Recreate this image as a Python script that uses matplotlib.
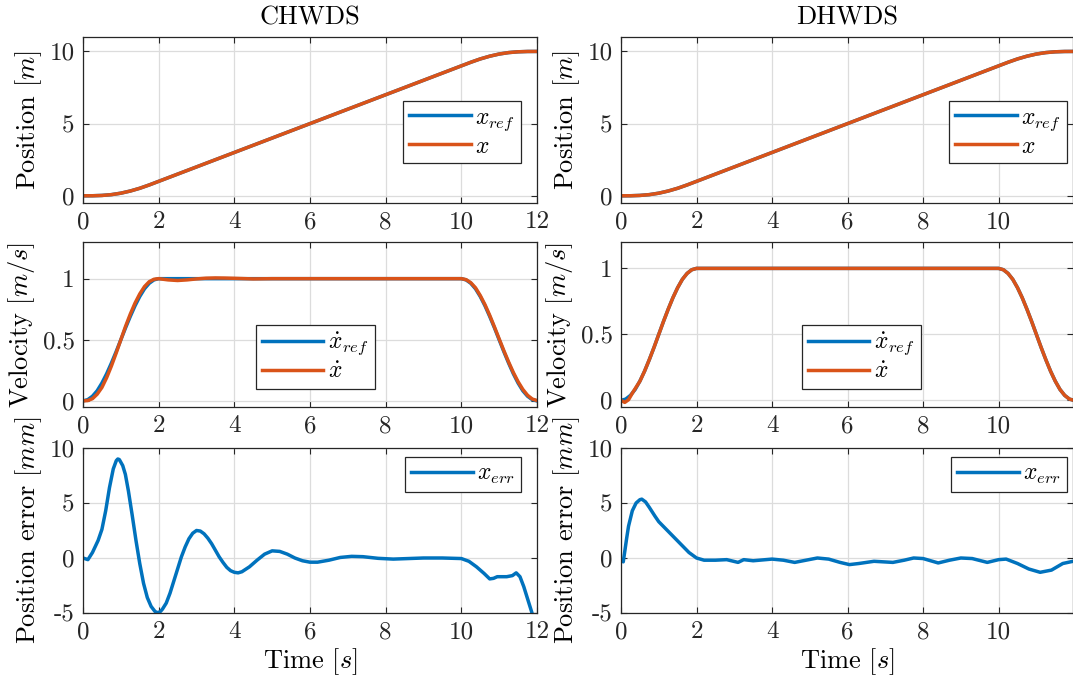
import matplotlib
matplotlib.use("Agg")
import matplotlib.pyplot as plt

plt.rcParams['font.family'] = 'serif'
plt.rcParams['font.serif'] = ['cmr10']
plt.rcParams['mathtext.fontset'] = 'cm'
plt.rcParams['axes.unicode_minus'] = False
plt.rcParams['axes.formatter.use_mathtext'] = True

BLUE = '#0072BD'
ORANGE = '#D95319'

# --- data ---
# reference trajectory (same for both controllers)
t_pos = [0, 0.25, 0.5, 0.75, 1.0, 1.25, 1.5, 1.75, 2.0, 10.0, 10.25, 10.5, 10.75, 11.0, 11.25, 11.5, 11.75, 12.0]
pos_ref = [0, 0.003, 0.025, 0.08, 0.18, 0.33, 0.52, 0.75, 1.0, 9.0, 9.25, 9.48, 9.67, 9.82, 9.92, 9.975, 9.997, 10.0]
pos_chwds = [0, 0.002, 0.022, 0.078, 0.18, 0.33, 0.52, 0.75, 1.0, 9.0, 9.25, 9.48, 9.67, 9.82, 9.92, 9.975, 9.997, 10.0]
pos_dhwds = [0, 0.002, 0.024, 0.079, 0.18, 0.33, 0.52, 0.75, 1.0, 9.0, 9.25, 9.48, 9.67, 9.82, 9.92, 9.975, 9.997, 10.0]

t_vel = [0, 0.125, 0.25, 0.375, 0.5, 0.625, 0.75, 0.875, 1.0, 1.125, 1.25, 1.375, 1.5, 1.625, 1.75, 1.875, 2.0,
         10.0, 10.125, 10.25, 10.375, 10.5, 10.625, 10.75, 10.875, 11.0, 11.125, 11.25, 11.375, 11.5, 11.625,
         11.75, 11.875, 12.0]
vel_ref = [0, 0.01, 0.038, 0.083, 0.146, 0.222, 0.309, 0.402, 0.5, 0.598, 0.691, 0.778, 0.854, 0.917, 0.962, 0.99, 1.0,
           1.0, 0.99, 0.962, 0.917, 0.854, 0.778, 0.691, 0.598, 0.5, 0.402, 0.309, 0.222, 0.146, 0.083,
           0.038, 0.01, 0]

t_vel_c = [0, 0.125, 0.25, 0.375, 0.5, 0.625, 0.75, 0.875, 1.0, 1.125, 1.25, 1.375, 1.5, 1.625, 1.75, 1.875, 2.0,
           2.25, 2.5, 2.75, 3.0, 3.25, 3.5, 3.75, 4.0, 4.5, 5.0,
           10.0, 10.125, 10.25, 10.375, 10.5, 10.625, 10.75, 10.875, 11.0, 11.125, 11.25, 11.375, 11.5, 11.625,
           11.75, 11.875, 12.0]
vel_chwds = [0, 0.003, 0.018, 0.055, 0.11, 0.19, 0.285, 0.39, 0.5, 0.61, 0.71, 0.8, 0.875, 0.935, 0.975, 0.995, 1.0,
             0.99, 0.985, 0.99, 0.998, 1.004, 1.006, 1.005, 1.003, 0.998, 1.0,
             1.0, 0.992, 0.967, 0.925, 0.862, 0.787, 0.7, 0.605, 0.507, 0.41, 0.318, 0.232, 0.157, 0.094,
             0.046, 0.015, 0.003]

t_vel_d = [0, 0.1, 0.2, 0.3, 0.4, 0.5, 0.625, 0.75, 0.875, 1.0, 1.125, 1.25, 1.375, 1.5, 1.625, 1.75, 1.875, 2.0,
           10.0, 10.125, 10.25, 10.375, 10.5, 10.625, 10.75, 10.875, 11.0, 11.125, 11.25, 11.375, 11.5, 11.625,
           11.75, 11.875, 12.0]
vel_dhwds = [0, -0.015, 0.005, 0.055, 0.1, 0.145, 0.222, 0.309, 0.402, 0.5, 0.598, 0.691, 0.778, 0.854, 0.917,
             0.962, 0.99, 1.0,
             1.0, 0.99, 0.962, 0.917, 0.854, 0.778, 0.691, 0.598, 0.5, 0.402, 0.309, 0.222, 0.146, 0.083,
             0.038, 0.01, 0]

t_err_c = [0, 0.13, 0.25, 0.4, 0.5, 0.6, 0.7, 0.8, 0.88, 0.92, 0.96, 1.05, 1.12, 1.2, 1.3, 1.4, 1.5, 1.6, 1.7,
           1.8, 1.9, 1.95, 2.0, 2.05, 2.1, 2.2, 2.3, 2.4, 2.5, 2.6, 2.7, 2.8, 2.9, 3.0, 3.1, 3.2, 3.3, 3.4,
           3.5, 3.6, 3.7, 3.8, 3.9, 4.0, 4.1, 4.2, 4.4, 4.6, 4.8, 5.0, 5.2, 5.4, 5.6, 5.8, 6.0, 6.2, 6.5, 6.8,
           7.1, 7.4, 7.8, 8.2, 8.6, 9.0, 9.5, 10.0, 10.2, 10.4, 10.6, 10.75, 10.85, 10.95, 11.2, 11.35, 11.45,
           11.55, 11.65, 11.75, 11.85, 11.92]
err_chwds = [0, -0.15, 0.5, 1.6, 2.6, 4.3, 6.4, 8.1, 8.85, 9.0, 8.95, 8.4, 7.6, 6.1, 3.9, 1.6, -0.5, -2.3, -3.6,
             -4.4, -4.85, -4.95, -4.95, -4.85, -4.65, -4.1, -3.2, -2.1, -1.0, 0.1, 1.0, 1.75, 2.25, 2.5, 2.45,
             2.2, 1.8, 1.3, 0.7, 0.1, -0.4, -0.85, -1.15, -1.3, -1.35, -1.25, -0.8, -0.2, 0.35, 0.65, 0.6, 0.35,
             0.0, -0.25, -0.38, -0.38, -0.2, 0.05, 0.15, 0.12, -0.03, -0.1, -0.05, 0.0, 0.0, -0.05, -0.3, -0.8,
             -1.4, -1.9, -1.85, -1.7, -1.7, -1.6, -1.35, -1.7, -2.6, -3.7, -4.8, -5.6]

t_err_d = [0, 0.06, 0.1, 0.15, 0.2, 0.3, 0.4, 0.5, 0.55, 0.65, 0.75, 0.9, 1.0, 1.2, 1.4, 1.6, 1.8, 2.0, 2.2, 2.5,
           2.8, 3.1, 3.25, 3.5, 4.0, 4.3, 4.6, 4.9, 5.2, 5.5, 5.8, 6.05, 6.3, 6.7, 7.2, 7.5, 7.75, 8.0, 8.4,
           8.7, 9.0, 9.3, 9.7, 10.0, 10.2, 10.5, 10.8, 11.1, 11.4, 11.7, 11.97]
err_dhwds = [-0.2, -0.35, 0.6, 1.8, 2.9, 4.3, 5.0, 5.3, 5.35, 5.1, 4.6, 3.8, 3.3, 2.6, 1.9, 1.2, 0.5, 0.0, -0.2,
             -0.2, -0.15, -0.4, -0.15, -0.25, -0.1, -0.2, -0.4, -0.2, 0.0, -0.1, -0.4, -0.6, -0.5, -0.3, -0.4,
             -0.2, 0.0, -0.05, -0.45, -0.2, 0.0, -0.05, -0.4, -0.15, -0.1, -0.5, -1.0, -1.3, -1.1, -0.5, -0.3]

titles = ['CHWDS', 'DHWDS']
ylabels = ['Position $[m]$', 'Velocity $[m/s]$', 'Position error $[mm]$']
xticks_left = [0, 2, 4, 6, 8, 10, 12]
xticks_right = [0, 2, 4, 6, 8, 10]
yticks_pos = [0, 5, 10]
yticks_vel = [0, 0.5, 1]
yticks_err = [-5, 0, 5, 10]
yticklabels_vel = ['0', '0.5', '1']
yticklabels_err = ['-5', '0', '5', '10']

W, H = 1073, 685
fig = plt.figure(figsize=(W / 100, H / 100), dpi=100)

col_x = [(83, 537), (621, 1073)]
row_y = [(37, 203), (242, 407), (448, 613)]


def make_ax(c, r):
    x0, x1 = col_x[c]
    y0, y1 = row_y[r]
    ax = fig.add_axes([x0 / W, 1 - y1 / H, (x1 - x0) / W, (y1 - y0) / H])
    ax.grid(True, color='#dcdcdc', linewidth=0.9)
    ax.set_axisbelow(True)
    ax.tick_params(direction='in', top=True, right=True, length=4, width=0.8,
                   labelsize=18, colors='#262626', pad=6)
    for s in ax.spines.values():
        s.set_color('#262626')
        s.set_linewidth(0.9)
    if c == 0:
        ax.set_xlim(0, 12)
        ax.set_xticks(xticks_left)
        ax.set_xticklabels([str(v) for v in xticks_left])
    else:
        ax.set_xlim(0, 11.97)
        ax.set_xticks(xticks_right)
        ax.set_xticklabels([str(v) for v in xticks_right])
    ax.set_ylabel(ylabels[r], fontsize=19, labelpad=4)
    return ax


def legend(ax, loc, anchor):
    leg = ax.legend(loc=loc, bbox_to_anchor=anchor, borderaxespad=0, fontsize=17,
                    fancybox=False, framealpha=1, edgecolor='#262626',
                    handlelength=2.6, handletextpad=0.2, borderpad=0.25, labelspacing=0.12)
    leg.get_frame().set_linewidth(0.9)


lw = 2.5
pos_act = [pos_chwds, pos_dhwds]
vel_t = [t_vel_c, t_vel_d]
vel_act = [vel_chwds, vel_dhwds]
err_t = [t_err_c, t_err_d]
err_v = [err_chwds, err_dhwds]
leg_x = [0.965, 0.987]
leg_mid = [0.512, 0.532]

for c in range(2):
    ax = make_ax(c, 0)
    ax.plot(t_pos, pos_ref, color=BLUE, lw=lw, label='$x_{ref}$')
    ax.plot(t_pos, pos_act[c], color=ORANGE, lw=lw, label='$x$')
    ax.set_ylim(-0.5, 11)
    ax.set_yticks(yticks_pos)
    ax.set_yticklabels([str(v) for v in yticks_pos])
    ax.set_title(titles[c], fontsize=19, pad=9)
    legend(ax, 'upper right', (leg_x[c], 0.617))

    ax = make_ax(c, 1)
    ax.plot(t_vel, vel_ref, color=BLUE, lw=lw, label=r'$\dot{x}_{ref}$')
    ax.plot(vel_t[c], vel_act[c], color=ORANGE, lw=lw, label=r'$\dot{x}$')
    ax.set_ylim(-0.05, 1.3 if c == 0 else 1.2)
    ax.set_yticks(yticks_vel)
    ax.set_yticklabels(yticklabels_vel)
    legend(ax, 'upper center', (leg_mid[c], 0.497))

    ax = make_ax(c, 2)
    ax.plot(err_t[c], err_v[c], color=BLUE, lw=lw, label='$x_{err}$')
    ax.set_ylim(-5, 10)
    ax.set_yticks(yticks_err)
    ax.set_yticklabels(yticklabels_err)
    ax.set_xlabel('Time $[s]$', fontsize=19, labelpad=2)
    legend(ax, 'upper right', (leg_x[c], 0.945))

fig.savefig('out.png', dpi=100)
